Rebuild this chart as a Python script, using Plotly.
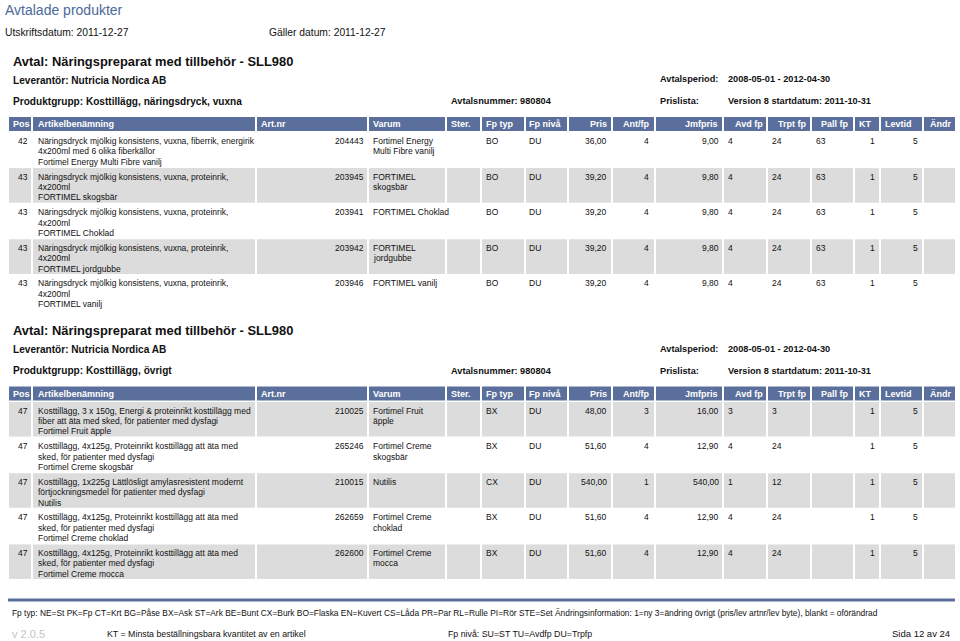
import plotly.graph_objects as go

FONT = "Liberation Sans"
HEAD_BLUE = "#5b6f9c"
TITLE_BLUE = "#4a6a9a"
ROW_GRAY = "#dcdcdc"

# ---- data ----
col_names = ["Pos", "Artikelbenämning", "Art.nr", "Varum", "Ster.", "Fp typ", "Fp nivå", "Pris",
             "Ant/fp", "Jmfpris", "Avd fp", "Trpt fp", "Pall fp", "KT", "Levtid", "Ändr"]

avtal = "Avtal: Näringspreparat med tillbehör - SLL980"
leverantor = "Leverantör: Nutricia Nordica AB"
avtalsnummer = "Avtalsnummer: 980804"
avtalsperiod = "2008-05-01 - 2012-04-30"
prislista = "Version 8 startdatum: 2011-10-31"
produktgrupper = ["Produktgrupp: Kosttillägg, näringsdryck, vuxna", "Produktgrupp: Kosttillägg, övrigt"]

# section 1
pos_1 = ["42", "43", "43", "43", "43"]
benamning_1 = [
    ["Näringsdryck mjölkig konsistens, vuxna, fiberrik, energirik", "4x200ml med 6 olika fiberkällor",
     "Fortimel Energy Multi Fibre vanilj"],
    ["Näringsdryck mjölkig konsistens, vuxna, proteinrik,", "4x200ml", "FORTIMEL skogsbär"],
    ["Näringsdryck mjölkig konsistens, vuxna, proteinrik,", "4x200ml", "FORTIMEL Choklad"],
    ["Näringsdryck mjölkig konsistens, vuxna, proteinrik,", "4x200ml", "FORTIMEL jordgubbe"],
    ["Näringsdryck mjölkig konsistens, vuxna, proteinrik,", "4x200ml", "FORTIMEL vanilj"],
]
artnr_1 = ["204443", "203945", "203941", "203942", "203946"]
varum_1 = [["Fortimel Energy", "Multi Fibre vanilj"], ["FORTIMEL", "skogsbär"], ["FORTIMEL Choklad"],
           ["FORTIMEL", "jordgubbe"], ["FORTIMEL vanilj"]]
fptyp_1 = ["BO", "BO", "BO", "BO", "BO"]
fpniva_1 = ["DU", "DU", "DU", "DU", "DU"]
pris_1 = ["36,00", "39,20", "39,20", "39,20", "39,20"]
antfp_1 = ["4", "4", "4", "4", "4"]
jmfpris_1 = ["9,00", "9,80", "9,80", "9,80", "9,80"]
avdfp_1 = ["4", "4", "4", "4", "4"]
trptfp_1 = ["24", "24", "24", "24", "24"]
pallfp_1 = ["63", "63", "63", "63", "63"]
kt_1 = ["1", "1", "1", "1", "1"]
levtid_1 = ["5", "5", "5", "5", "5"]

# section 2
pos_2 = ["47", "47", "47", "47", "47"]
benamning_2 = [
    ["Kosttillägg, 3 x 150g, Energi & proteinrikt kosttillägg med",
     "fiber att äta med sked, för patienter med dysfagi", "Fortimel Fruit äpple"],
    ["Kosttillägg, 4x125g, Proteinrikt kosttillägg att äta med", "sked, för patienter med dysfagi",
     "Fortimel Creme skogsbär"],
    ["Kosttillägg, 1x225g Lättlösligt amylasresistent modernt",
     "förtjockningsmedel för patienter med dysfagi", "Nutilis"],
    ["Kosttillägg, 4x125g, Proteinrikt kosttillägg att äta med", "sked, för patienter med dysfagi",
     "Fortimel Creme choklad"],
    ["Kosttillägg, 4x125g, Proteinrikt kosttillägg att äta med", "sked, för patienter med dysfagi",
     "Fortimel Creme mocca"],
]
artnr_2 = ["210025", "265246", "210015", "262659", "262600"]
varum_2 = [["Fortimel Fruit", "äpple"], ["Fortimel Creme", "skogsbär"], ["Nutilis"],
           ["Fortimel Creme", "choklad"], ["Fortimel Creme", "mocca"]]
fptyp_2 = ["BX", "BX", "CX", "BX", "BX"]
fpniva_2 = ["DU", "DU", "DU", "DU", "DU"]
pris_2 = ["48,00", "51,60", "540,00", "51,60", "51,60"]
antfp_2 = ["3", "4", "1", "4", "4"]
jmfpris_2 = ["16,00", "12,90", "540,00", "12,90", "12,90"]
avdfp_2 = ["3", "4", "1", "4", "4"]
trptfp_2 = ["3", "24", "12", "24", "24"]
pallfp_2 = ["", "", "", "", ""]
kt_2 = ["1", "1", "1", "1", "1"]
levtid_2 = ["5", "5", "5", "5", "5"]

footer_1 = ("Fp typ: NE=St PK=Fp CT=Krt BG=Påse BX=Ask ST=Ark BE=Bunt CX=Burk BO=Flaska EN=Kuvert CS=Låda "
            "PR=Par RL=Rulle PI=Rör STE=Set Ändringsinformation: 1=ny 3=ändring övrigt (pris/lev artnr/lev byte), "
            "blankt = oförändrad")
footer_kt = "KT = Minsta beställningsbara kvantitet av en artikel"
footer_niva = "Fp nivå: SU=ST TU=Avdfp DU=Trpfp"

# ---- layout of the page (pixels) ----
col_edges = [8, 32, 256, 368, 446, 481, 525, 568, 612, 655, 723, 767, 811, 854, 880, 923, 956]
head_x = [11, 36, 259, 371, 449, 484, 527, 609, 651, 720, 765, 808, 851, 857, 883, 953]
head_align = ["left", "left", "left", "left", "left", "left", "left", "right", "right", "right",
              "right", "right", "right", "left", "left", "right"]
cell_x = [30, 36, 366, 371, None, 484, 527, 609, 651, 721, 726, 770, 814, 877, 920, None]
cell_align = ["right", "left", "right", "left", "left", "left", "left", "right", "right", "right",
              "left", "left", "left", "right", "right", "left"]

shapes = []
annotations = []


def text(x, y, s, size=8.5, color="#111111", bold=False, align="left", family=FONT):
    annotations.append(dict(
        x=x, y=y, xref="x", yref="y", text="<b>%s</b>" % s if bold else s, showarrow=False,
        xanchor=align, yanchor="middle", font=dict(family=family, size=size, color=color)))


def rect(x0, y0, x1, y1, color):
    shapes.append(dict(type="rect", xref="x", yref="y", x0=x0, y0=y0, x1=x1, y1=y1,
                       fillcolor=color, line=dict(width=0), layer="below"))


def draw_section(off, grupp, cols, gray_first):
    # heading block
    text(11, 61 + off, avtal, size=12.9, bold=True)
    text(11, 80 + off, leverantor, size=10.1, bold=True)
    text(11, 101 + off, grupp, size=10.1, bold=True)
    text(449, 101 + off, avtalsnummer, size=9.2, bold=True)
    text(658, 79 + off, "Avtalsperiod:", size=9.2, bold=True)
    text(726, 79 + off, avtalsperiod, size=9.2, bold=True)
    text(658, 101 + off, "Prislista:", size=9.2, bold=True)
    text(726, 101 + off, prislista, size=9.2, bold=True)

    # header bar
    for i in range(len(col_names)):
        rect(col_edges[i] + 1, 117 + off, col_edges[i + 1] - 1, 131 + off, HEAD_BLUE)
        text(head_x[i], 124 + off, col_names[i], size=9, color="white", bold=True, align=head_align[i])

    # rows
    n = len(cols[0])
    for r in range(n):
        top = 132.5 + off + r * 35.6
        if (r % 2 == 0) == gray_first:
            for i in range(len(col_names)):
                rect(col_edges[i] + 1, top, col_edges[i + 1] - 1, top + 34.6, ROW_GRAY)
        for i, col in enumerate(cols):
            if cell_x[i] is None:
                continue
            val = col[r]
            lines = val if isinstance(val, list) else [val]
            for k, ln in enumerate(lines):
                text(cell_x[i], top + 8.5 + k * 10.4, ln, size=8.5, align=cell_align[i])


cols_1 = [pos_1, benamning_1, artnr_1, varum_1, None, fptyp_1, fpniva_1, pris_1, antfp_1, jmfpris_1,
          avdfp_1, trptfp_1, pallfp_1, kt_1, levtid_1, None]
cols_2 = [pos_2, benamning_2, artnr_2, varum_2, None, fptyp_2, fpniva_2, pris_2, antfp_2, jmfpris_2,
          avdfp_2, trptfp_2, pallfp_2, kt_2, levtid_2, None]
cols_1 = [c if c is not None else [""] * 5 for c in cols_1]
cols_2 = [c if c is not None else [""] * 5 for c in cols_2]

# page header
text(3, 10, "Avtalade produkter", size=14, color=TITLE_BLUE)
text(3, 32, "Utskriftsdatum: 2011-12-27", size=10.3)
text(267, 32, "Gäller datum: 2011-12-27", size=10.3)

draw_section(0, produktgrupper[0], cols_1, gray_first=False)
draw_section(269.5, produktgrupper[1], cols_2, gray_first=True)

# footer
shapes.append(dict(type="line", xref="x", yref="y", x0=8, x1=955, y0=600, y1=600,
                   line=dict(color=HEAD_BLUE, width=3)))
text(10, 613, footer_1, size=8.4)
text(10, 634, "v 2.0.5", size=11, color="#c4c4c4")
text(105, 634, footer_kt, size=8.8)
text(446, 634, footer_niva, size=8.8)
text(952, 633, "Sida 12 av 24", size=9.5, align="right")

fig = go.Figure()
fig.update_layout(
    width=960, height=641,
    margin=dict(l=0, r=0, t=0, b=0),
    paper_bgcolor="white", plot_bgcolor="white",
    xaxis=dict(range=[0, 960], visible=False, fixedrange=True),
    yaxis=dict(range=[641, 0], visible=False, fixedrange=True),
    shapes=shapes, annotations=annotations, showlegend=False,
)
# page body has a default 8px margin; drop it so the page lines up with the window
fig.write_html("out.html", config={"displayModeBar": False},
               post_script="document.body.style.margin='0';document.body.style.overflow='hidden';")
